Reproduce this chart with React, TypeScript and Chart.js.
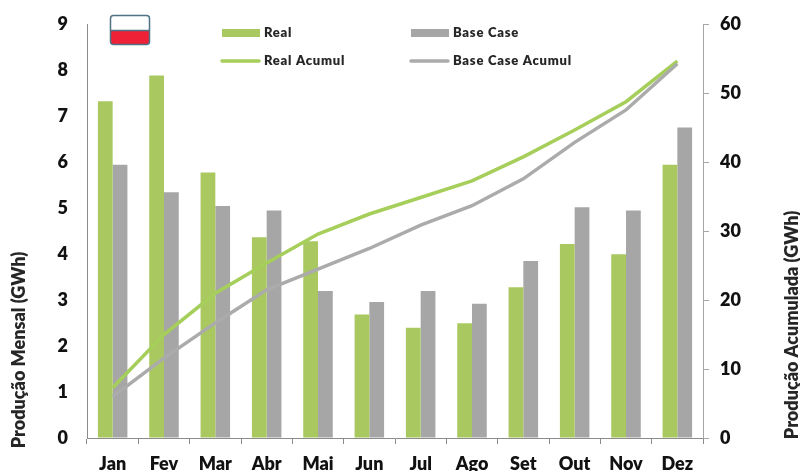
import React, { useEffect, useRef } from "react";
import { Chart, registerables } from "chart.js";

Chart.register(...registerables);

const months = ["Jan", "Fev", "Mar", "Abr", "Mai", "Jun", "Jul", "Ago", "Set", "Out", "Nov", "Dez"];
const realMonthly = [7.33, 7.89, 5.78, 4.37, 4.28, 2.69, 2.4, 2.5, 3.28, 4.22, 4.0, 5.95];
const baseMonthly = [5.95, 5.35, 5.05, 4.95, 3.2, 2.96, 3.2, 2.92, 3.85, 5.02, 4.95, 6.76];
const realCumulative = [7.3, 15, 21, 25.4, 29.6, 32.5, 34.9, 37.3, 40.8, 44.7, 48.8, 54.7];
const baseCumulative = [6, 11.6, 16.7, 21.5, 24.5, 27.5, 30.9, 33.7, 37.6, 42.9, 47.6, 54.3];
const leftTitle = "Produção Mensal (GWh)";
const rightTitle = "Produção Acumulada (GWh)";

const GREEN = "#A9C960";
const GREEN_LINE = "#A6CE5A";
const GRAY = "#A6A6A6";
const GRAY_LINE = "#ABABAB";
const AXIS = "#8C8C8C";
const FONT = "Lato, 'Open Sans', sans-serif";

const overlay = {
  id: "overlay",
  afterDraw(chart: any) {
    const { ctx, data } = chart;
    ctx.save();
    // flag
    ctx.beginPath();
    ctx.roundRect(110.5, 15.5, 39, 29, 3);
    ctx.fillStyle = "#fff";
    ctx.fill();
    ctx.save();
    ctx.clip();
    ctx.fillStyle = "#EF2136";
    ctx.fillRect(110, 30.5, 40, 15);
    ctx.restore();
    ctx.strokeStyle = "#4F7285";
    ctx.lineWidth = 1.5;
    ctx.stroke();
    ctx.beginPath();
    ctx.moveTo(110.5, 30.5);
    ctx.lineTo(149.5, 30.5);
    ctx.stroke();

    // legend
    const entries = [
      [0, 222, 33, false],
      [1, 411, 33, false],
      [2, 222, 61, true],
      [3, 411, 61, true],
    ];
    ctx.font = `800 13px ${FONT}`;
    ctx.textBaseline = "middle";
    ctx.textAlign = "left";
    (ctx as any).letterSpacing = "0.75px";
    for (const [i, x, y, isLine] of entries as any[]) {
      const ds = data.datasets[i];
      if (isLine) {
        ctx.strokeStyle = ds.borderColor;
        ctx.lineWidth = 3.5;
        ctx.lineCap = "round";
        ctx.beginPath();
        ctx.moveTo(x, y);
        ctx.lineTo(x + 37, y);
        ctx.stroke();
      } else {
        ctx.fillStyle = ds.backgroundColor;
        ctx.fillRect(x, y - 4, 38, 8);
      }
      ctx.fillStyle = "#262626";
      ctx.fillText(ds.label, x + 42, y);
    }

    // axis titles
    (ctx as any).letterSpacing = "0px";
    ctx.font = `800 18px ${FONT}`;
    ctx.fillStyle = "#262626";
    ctx.textAlign = "center";
    ctx.save();
    ctx.translate(19, 350);
    ctx.rotate(-Math.PI / 2);
    ctx.fillText(leftTitle, 0, 0);
    ctx.restore();
    ctx.save();
    ctx.translate(792, 325);
    ctx.rotate(-Math.PI / 2);
    ctx.fillText(rightTitle, 0, 0);
    ctx.restore();
    ctx.restore();
  },
};

export default function App() {
  const ref = useRef<HTMLCanvasElement>(null);
  useEffect(() => {
    const tickFont = { family: FONT, size: 18, weight: "800" as const };
    const fitY = (width: number) => (s: any) => {
      s.width = width;
      s.paddingTop = 0;
      s.paddingBottom = 0;
    };
    const chart = new Chart(ref.current!, {
      type: "bar",
      data: {
        labels: months,
        datasets: [
          { type: "bar", label: "Real", data: realMonthly, backgroundColor: GREEN, yAxisID: "y", order: 2, barPercentage: 1, categoryPercentage: 0.575 },
          { type: "bar", label: "Base Case", data: baseMonthly, backgroundColor: GRAY, yAxisID: "y", order: 2, barPercentage: 1, categoryPercentage: 0.575 },
          { type: "line", label: "Real Acumul", data: realCumulative, borderColor: GREEN_LINE, borderWidth: 3.5, pointRadius: 0, tension: 0, yAxisID: "y2", order: 1 },
          { type: "line", label: "Base Case Acumul", data: baseCumulative, borderColor: GRAY_LINE, borderWidth: 3.5, pointRadius: 0, tension: 0, yAxisID: "y2", order: 0 },
        ] as any,
      },
      options: {
        animation: false,
        responsive: false,
        layout: { padding: { top: 24.5 } },
        plugins: { legend: { display: false }, tooltip: { enabled: false } },
        scales: {
          x: {
            grid: { drawOnChartArea: false, color: AXIS, tickLength: 6 },
            border: { color: AXIS },
            ticks: { font: tickFont, color: "#111", padding: 9, maxRotation: 0 },
            afterFit: (s: any) => { s.height = 33; },
          },
          y: {
            position: "left",
            min: 0,
            max: 9,
            grid: { drawOnChartArea: false, drawTicks: false },
            border: { color: AXIS },
            ticks: { stepSize: 1, font: tickFont, color: "#111", padding: 19 },
            afterFit: fitY(87),
          },
          y2: {
            position: "right",
            min: 0,
            max: 60,
            grid: { drawOnChartArea: false, color: GRAY, tickLength: 6 },
            border: { color: GRAY },
            ticks: { stepSize: 10, font: tickFont, color: "#111", padding: 11 },
            afterFit: fitY(97),
          },
        },
      } as any,
      plugins: [overlay],
    });
    return () => chart.destroy();
  }, []);
  return (
    <canvas
      ref={ref}
      width={800}
      height={471}
      style={{ position: "fixed", left: 0, top: 0, width: 800, height: 471, background: "#fff", filter: "blur(0.35px)" }}
    />
  );
}
